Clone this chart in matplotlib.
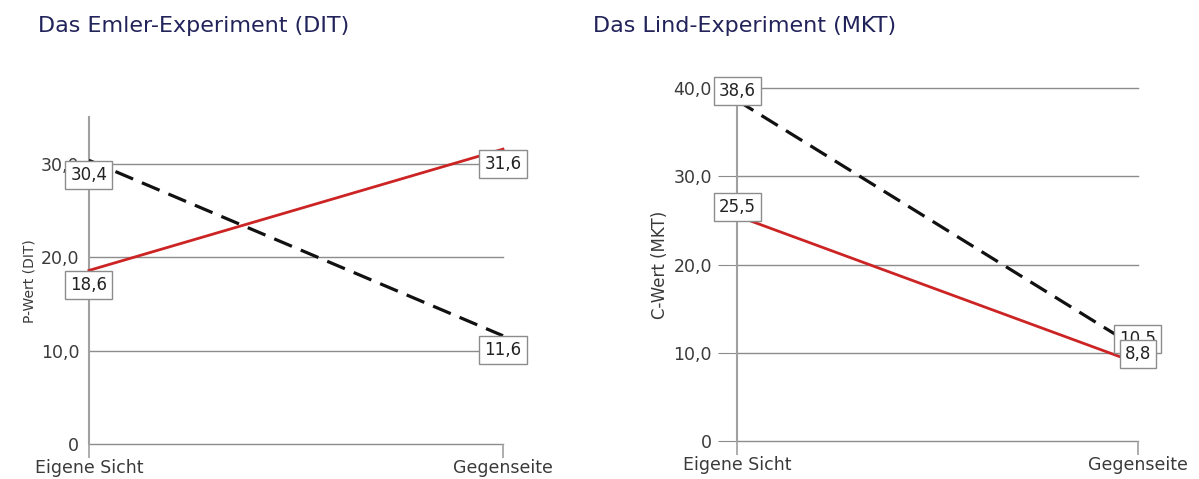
import matplotlib.pyplot as plt

plt.rcParams['font.family'] = ['DejaVu Sans']

# data
categories = ['Eigene Sicht', 'Gegenseite']

dit_red = [18.6, 31.6]
dit_black = [30.4, 11.6]

mkt_red = [25.5, 8.8]
mkt_black = [38.6, 10.5]

dit_ticks = [0, 10, 20, 30]
dit_ticklabels = ['0', '10,0', '20,0', '30,0']
mkt_ticks = [0, 10, 20, 30, 40]
mkt_ticklabels = ['0', '10,0', '20,0', '30,0', '40,0']


def fmt(v):
    return ('%.1f' % v).replace('.', ',')


fig = plt.figure(figsize=(11.99, 4.79), dpi=100)
ax1 = fig.add_axes([0.0742, 0.0731, 0.3453, 0.6818])
ax2 = fig.add_axes([0.6147, 0.0793, 0.3344, 0.7370])

title_col = '#22235a'
grid_col = '#8c8c8c'
text_col = '#3a3a3a'

panels = [
    (ax1, dit_red, dit_black, dit_ticks, dit_ticklabels, 35, 'P-Wert (DIT)', 10,
     'Das Emler-Experiment (DIT)', 0.0317, 'below', 0),
    (ax2, mkt_red, mkt_black, mkt_ticks, mkt_ticklabels, 40, 'C-Wert (MKT)', 12,
     'Das Lind-Experiment (MKT)', 0.4946, 'above', 14),
]

x = [0, 1]
for ax, red, black, ticks, tlabels, ytop, ylab, ylab_fs, title, tx, where, ticklen in panels:
    ax.set_xlim(0, 1)
    ax.set_ylim(0, ytop)
    for s in ['top', 'right', 'bottom']:
        ax.spines[s].set_visible(False)
    ax.spines['left'].set_color('#a0a0a0')
    ax.spines['left'].set_linewidth(1.5)
    ax.set_yticks(ticks)
    ax.set_yticklabels(tlabels, fontsize=12.5, color=text_col)
    ax.tick_params(axis='y', length=ticklen, color=grid_col, pad=7 if ticklen == 0 else 4)
    ax.set_xticks(x)
    ax.set_xticklabels(categories, fontsize=12.5, color=text_col)
    ax.tick_params(axis='x', length=10, width=1.2, color='#a0a0a0', pad=1)
    for t in ticks:
        ax.axhline(t, color=grid_col, lw=1, zorder=1, clip_on=False)
    ax.set_ylabel(ylab, fontsize=ylab_fs, color=text_col, labelpad=3)

    ax.plot(x, red, color='#cc2424', lw=2, zorder=3, clip_on=False)
    ax.plot(x, black, color='#111111', lw=2.3, ls=(0, (6, 3)), zorder=3, clip_on=False)

    for xi in x:
        for vals in (black, red):
            v = vals[xi]
            if where == 'below':
                off, va = -4, 'top'
            else:
                off, va = 0, 'bottom'
            ax.annotate(fmt(v), (xi, v), xytext=(0, off), textcoords='offset points',
                        ha='center', va=va, fontsize=12, color='#222222', zorder=5,
                        annotation_clip=False,
                        bbox=dict(boxstyle='square,pad=0.3', fc='white', ec='#8c8c8c', lw=1))

    fig.text(tx, 0.945, title, fontsize=16, color=title_col, ha='left', va='center')

fig.savefig('out.png', dpi=100)
